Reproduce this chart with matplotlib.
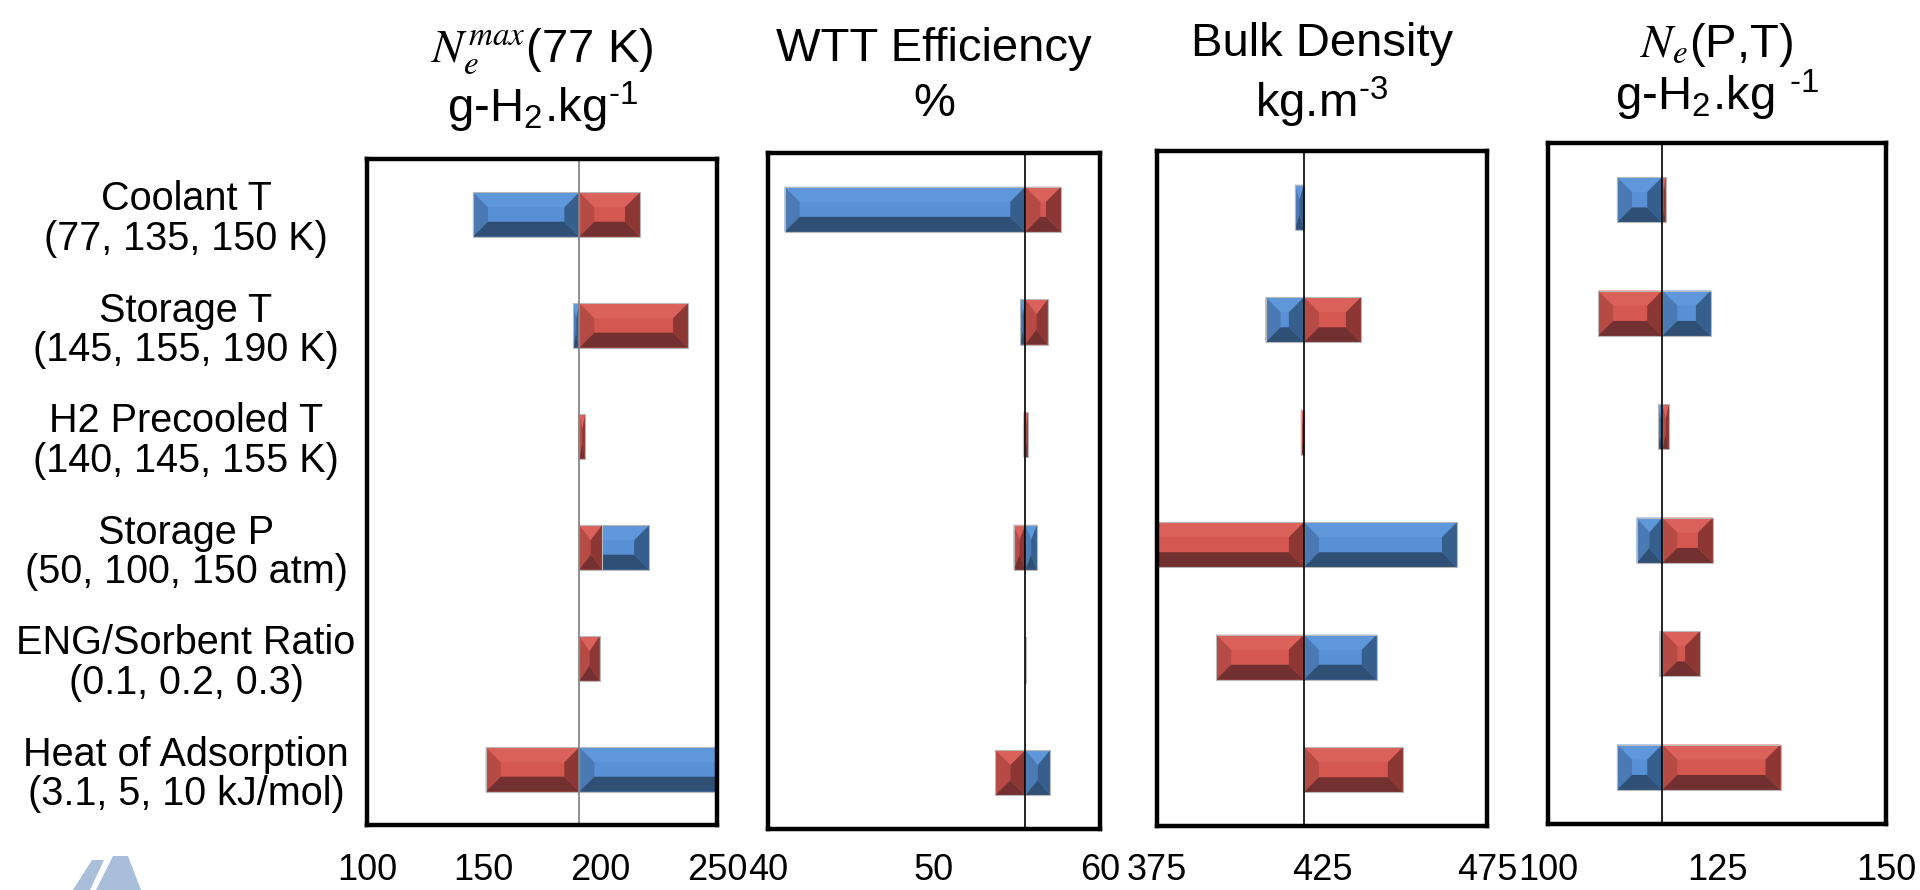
import matplotlib
matplotlib.use("Agg")
import matplotlib.pyplot as plt
from matplotlib.patches import Polygon

plt.rcParams['font.family'] = ['Liberation Sans', 'DejaVu Sans']
plt.rcParams['mathtext.fontset'] = 'custom'
plt.rcParams['mathtext.rm'] = 'Liberation Sans'
plt.rcParams['mathtext.it'] = 'STIXGeneral:italic'

# parametros variados (de cima para baixo)
parametros = ['Coolant T\n(77, 135, 150 K)',
              'Storage T\n(145, 155, 190 K)',
              'H2 Precooled T\n(140, 145, 155 K)',
              'Storage P\n(50, 100, 150 atm)',
              'ENG/Sorbent Ratio\n(0.1, 0.2, 0.3)',
              'Heat of Adsorption\n(3.1, 5, 10 kJ/mol)']

# capacidade maxima em excesso a 77 K
cap_base = 191.0
cap_baixo = [145.4, 188.3, 190.6, 220.9, 190.8, 258.0]
cap_alto = [217.0, 237.6, 193.5, 200.7, 199.7, 150.9]
cap_ticks = [100, 150, 200, 250]

# eficiencia WTT
wtt_base = 55.5
wtt_baixo = [41.0, 55.2, 55.4, 56.2, 55.55, 57.0]
wtt_alto = [57.65, 56.85, 55.65, 54.8, 55.5, 53.7]
wtt_ticks = [40, 50, 60]

# densidade bulk
dens_base = 419.5
dens_baixo = [416.8, 407.9, 419.3, 465.9, 441.6, 419.5]
dens_alto = [419.5, 436.8, 418.6, 368.0, 392.9, 449.5]
dens_ticks = [375, 425, 475]

# capacidade em excesso N_e(P,T)
ne_base = 116.9
ne_baixo = [110.2, 124.1, 116.3, 113.1, 116.5, 110.2]
ne_alto = [117.4, 107.4, 117.9, 124.4, 122.5, 134.4]
ne_ticks = [100, 125, 150]

# cores com efeito de chanfro (face, topo, esquerda, baixo, direita)
azul = ['#5790D5', '#5E97DA', '#4A79B3', '#2F5074', '#365F8E']
vermelho = ['#D4584F', '#DA625A', '#B64A45', '#733030', '#8C3733']

W, H = 1920, 890
fig = plt.figure(figsize=(W / 100, H / 100), dpi=100)


def eixo_px(x0, x1, topo, baixo):
    return fig.add_axes([x0 / W, 1 - baixo / H, (x1 - x0) / W, (baixo - topo) / H])


def barra_chanfrada(ax, base, valores, cores, z, altura=0.4, prof=15):
    ys = list(range(len(valores)))
    larg = [v - base for v in valores]
    ax.barh(ys, larg, left=base, height=altura, color=cores[0], linewidth=0, zorder=z)
    p = ax.transData.transform([[0, 0], [1, 1]])
    sx, sy = abs(p[1, 0] - p[0, 0]), abs(p[1, 1] - p[0, 1])
    for y, v in zip(ys, valores):
        x0, x1 = sorted([base, v])
        yt, yb = y - altura / 2, y + altura / 2
        dx = min(prof / sx, (x1 - x0) / 2)
        dy = min(prof / sy, altura / 2)
        faces = [
            ([(x0, yt), (x1, yt), (x1 - dx, yt + dy), (x0 + dx, yt + dy)], cores[1]),
            ([(x0, yt), (x0 + dx, yt + dy), (x0 + dx, yb - dy), (x0, yb)], cores[2]),
            ([(x0, yb), (x1, yb), (x1 - dx, yb - dy), (x0 + dx, yb - dy)], cores[3]),
            ([(x1, yt), (x1 - dx, yt + dy), (x1 - dx, yb - dy), (x1, yb)], cores[4]),
        ]
        for pts, c in faces:
            ax.add_patch(Polygon(pts, closed=True, facecolor=c, edgecolor='none', zorder=z + 0.1))
    ax.barh(ys, larg, left=base, height=altura, fill=False, edgecolor='#B8B8B8',
            linewidth=0.8, zorder=z + 0.2)


paineis = [
    dict(caixa=(367, 717, 159, 825), lim=(100, 250), ticks=cap_ticks, base=cap_base,
         baixo=cap_baixo, alto=cap_alto, linha='#7F7F7F',
         titulo=(r'$N_e^{max}$(77 K)', r'g-H$_2$.kg$^{\text{-}1}$'), ytit=(68, 122), ajuste=0.8),
    dict(caixa=(768, 1100, 153, 829), lim=(40, 60), ticks=wtt_ticks, base=wtt_base,
         baixo=wtt_baixo, alto=wtt_alto, linha='black',
         titulo=('WTT Efficiency', '%'), ytit=(64, 116), ajuste=1.0),
    dict(caixa=(1157, 1487, 151, 826), lim=(375, 475), ticks=dens_ticks, base=dens_base,
         baixo=dens_baixo, alto=dens_alto, linha='black',
         titulo=('Bulk Density', r'kg.m$^{\text{-}3}$'), ytit=(62, 117), ajuste=0.86),
    dict(caixa=(1548, 1886, 143, 824), lim=(100, 150), ticks=ne_ticks, base=ne_base,
         baixo=ne_baixo, alto=ne_alto, linha='black',
         titulo=(r'$N_e$(P,T)', r'g-H$_2$.kg $^{\text{-}1}$'), ytit=(62, 110), ajuste=0.8),
]

for i, pn in enumerate(paineis):
    x0, x1, topo, baixo = pn['caixa']
    ax = eixo_px(x0, x1, topo, baixo)
    ax.set_xlim(*pn['lim'])
    ax.set_ylim(len(parametros) - 0.5, -0.5)

    barra_chanfrada(ax, pn['base'], pn['baixo'], azul, 2)
    barra_chanfrada(ax, pn['base'], pn['alto'], vermelho, 3)
    ax.axvline(pn['base'], color=pn['linha'], linewidth=1.2, zorder=5)

    for s in ax.spines.values():
        s.set_linewidth(3.2)
        s.set_color('black')
        s.set_zorder(6)
    ax.set_xticks(pn['ticks'])
    ax.set_xticklabels([str(t) for t in pn['ticks']], fontsize=26)
    ax.tick_params(axis='x', length=0, pad=(853 - baixo) * 0.72)
    if i == 0:
        ax.set_yticks(range(len(parametros)))
        ax.set_yticklabels(parametros, fontsize=28.5, ha='center', linespacing=1.05)
        ax.tick_params(axis='y', length=0, pad=(x0 - 186) * 0.72)
    else:
        ax.set_yticks([])

    # titulo em duas linhas num unico texto (ancora na linha de base da ultima)
    y1, y2 = pn['ytit']
    xc = (x0 + x1) / 2 / W
    ls = 0.952 * (y2 - y1) / 37 * pn['ajuste']
    fig.text(xc, 1 - y2 / H, '\n'.join(pn['titulo']), fontsize=34, ha='center',
             va='baseline', linespacing=ls)

# logotipo no canto inferior esquerdo
logo = [[(73, 890), (92, 860), (104, 860), (90, 890)],
        [(96, 890), (113, 856), (128, 856), (141, 890)]]
for pts in logo:
    fig.patches.append(Polygon([(x / W, 1 - y / H) for x, y in pts], closed=True,
                               transform=fig.transFigure, facecolor='#A9BED8',
                               edgecolor='none'))

fig.savefig('out.png', dpi=100)
